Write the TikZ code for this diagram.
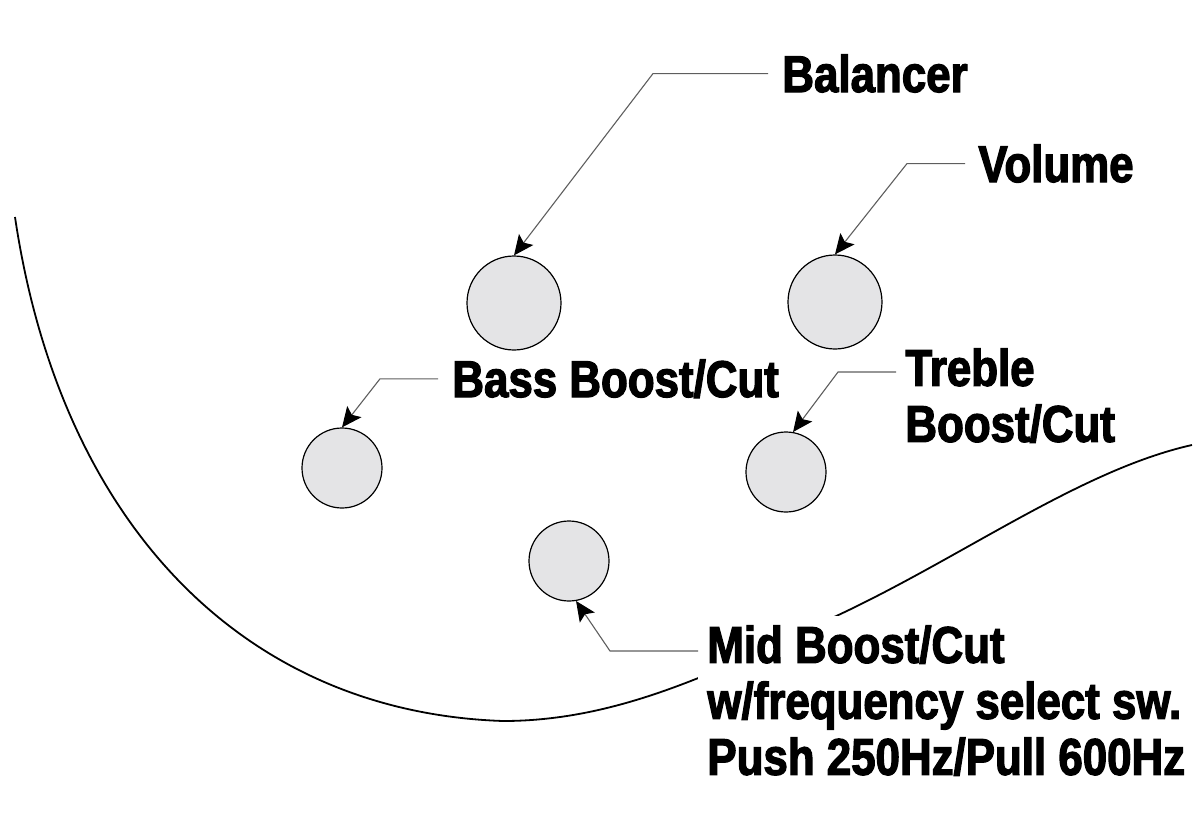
\documentclass[tikz,border=0pt]{standalone}
\usepackage{fontspec}
\newfontfamily\labfont{Liberation Sans}[FakeStretch=0.85,FakeBold=2.4]
\usetikzlibrary{arrows.meta,calc}
\definecolor{knobgray}{HTML}{E4E4E6}
\definecolor{leadergray}{HTML}{5E5E5E}
\tikzset{
  knob/.style={circle, draw=black, line width=0.6pt, fill=knobgray, inner sep=0pt, minimum size=#1},
  lbl/.style={inner sep=0pt, align=left, text=black, font={\labfont\bfseries\fontsize{25.8}{28}\selectfont}},
  leader/.style={draw=leadergray, line width=0.55pt, -{Stealth[length=10pt,width=9pt,inset=2pt,black]}},
  bodyline/.style={draw=black, line width=0.9pt}
}
\begin{document}
\begin{tikzpicture}[x=0.5pt,y=-0.5pt]
\useasboundingbox (0,0) rectangle (1200,825);
% body outline
\draw[bodyline] (15,217) .. controls (60,520) and (240,712) .. (503,721)
  .. controls (620,721) and (720,670) .. (832,618)
  .. controls (960,559) and (1080,470) .. (1192,445);
% knobs
\node[knob=47pt] (kbal) at (514,303) {};
\node[knob=47pt] (kvol) at (835,302) {};
\node[knob=40pt] (kbass) at (342,468) {};
\node[knob=40pt] (ktreb) at (786,472) {};
\node[knob=40pt] (kmid) at (569,561) {};
% labels
\node[lbl, anchor=base west] (bal) at (782,92) {Balancer};
\node[lbl, anchor=base west] (vol) at (978,182) {Volume};
\node[lbl, anchor=base west] (bass) at (452,397) {Bass Boost/Cut};
\node[lbl, anchor=north west] (treb) at (905,348) {Treble\\Boost/Cut};
\node[lbl, anchor=north west, inner sep=4.5pt, fill=white] (mid) at (698,616) {Mid Boost/Cut\\w/frequency select sw.\\Push 250Hz/Pull 600Hz};
% leader coordinates
\coordinate (balA) at ($(bal.west)+(-14,0)$);
\coordinate (balB) at ($(balA)+(-115,0)$);
\coordinate (volA) at ($(vol.west)+(-13,0)$);
\coordinate (volB) at ($(volA)+(-58,0)$);
\coordinate (bassA) at ($(bass.west)+(-14,0)$);
\coordinate (bassB) at ($(bassA)+(-58,0)$);
\coordinate (trebA) at ($(treb.north west)+(-9,24)$);
\coordinate (trebB) at ($(trebA)+(-58,0)$);
\coordinate (midA) at ($(mid.north west)+(0,35)$);
\coordinate (midB) at ($(midA)+(-88,0)$);
% leaders
\draw[leader] (balA) -- (balB) -- (kbal.north);
\draw[leader] (volA) -- (volB) -- (kvol.north);
\draw[leader] (bassA) -- (bassB) -- (kbass.north);
\draw[leader] (trebA) -- (trebB) -- (ktreb.80);
\draw[leader] (midA) -- (midB) -- (kmid.-80);
\end{tikzpicture}
\end{document}
